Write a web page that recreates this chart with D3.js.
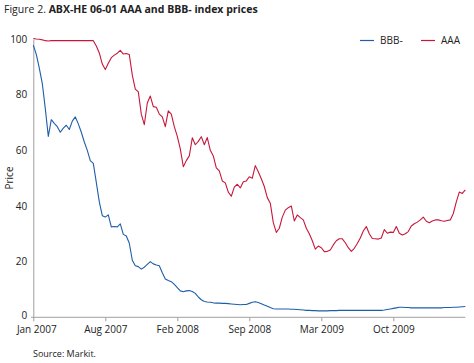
<!DOCTYPE html>
<html><head><meta charset="utf-8">
<script src="https://cdn.jsdelivr.net/npm/d3@7"></script>
<style>body{margin:0;background:#fff}svg{display:block}text{font-family:"Open Sans",sans-serif;fill:#222}</style>
</head><body><svg id="c" width="474" height="363"></svg>
<script>
const tickLabels = ["Jan 2007","Aug 2007","Feb 2008","Sep 2008","Mar 2009","Oct 2009"];
const tickIndex = [0,24,48,72,96,120];
const yTicks = [0,20,40,60,80,100];
const seriesNames = ["BBB-","AAA"];
const bbb = [97.8,94.5,89.5,84,75,65,71,69.7,68.5,66.5,68,69,67.5,70.5,72,69.5,66.5,63,60,56.3,
55.3,48.5,41.5,36.5,36,36.8,32.5,32.6,32.5,33.6,29.8,29.2,26.6,20.5,18.5,18.2,17.3,18,19,20,
19.2,18.8,18.5,16,13.8,13.2,12.8,11.8,10.7,9.5,9.2,9.5,9.6,9.3,8.6,7.3,6.3,5.7,5.5,5.4,
5.2,5.1,5.1,5,5,4.9,4.8,4.7,4.6,4.5,4.6,4.6,5,5.4,5.6,5.3,4.9,4.4,4,3.5,
3.1,3,3,3,3,3,2.9,2.9,2.8,2.7,2.6,2.5,2.5,2.4,2.4,2.3,2.3,2.3,2.3,2.4,
2.4,2.4,2.5,2.5,2.5,2.5,2.5,2.5,2.5,2.5,2.5,2.5,2.5,2.5,2.5,2.5,2.5,2.6,2.8,3.0,
3.2,3.4,3.6,3.6,3.5,3.5,3.4,3.4,3.4,3.4,3.4,3.4,3.4,3.4,3.4,3.4,3.4,3.5,3.5,3.5,
3.6,3.6,3.7,3.8,3.9];
const aaa = [100.2,100,99.9,99.7,99.4,99.3,99.4,99.4,99.4,99.4,99.4,99.4,99.4,99.4,99.4,99.4,99.4,99.4,99.4,99.4,
99.4,97.5,95,91,89,91.3,93.3,94.2,94.9,95.9,94.6,94.8,94.4,87,82,81,73,69.2,77,79.5,
75.7,75.5,73,72,68.5,74.2,73,68.5,65,60.5,54.1,56.3,58,64.5,62,63.2,64.9,62,64.6,60,
58,53.7,52.6,49,48.3,45,43.5,46.8,47.8,46.5,48.7,49,50.5,50,54.5,52.3,49.8,47,43,41,
34,30.5,32,36,38.5,39.4,40,34.6,36.8,35.8,35,32,30,27.5,24.5,25.6,25,23.6,23.7,24.2,
26,27.5,28.2,28.2,26.8,25,23.7,24.8,26.5,28.5,31,32.6,30,28.3,28.2,28.1,28.5,31.5,30.2,30.6,
30.5,32.6,30.2,29.6,30,30.8,32.8,33.6,34.2,35,36,34.5,34,34.6,35,35,34.7,34.5,34.8,35,
37.3,41.5,45,44.5,45.8];
const colors = ["#1f5ea8","#c8173a"];

const svg = d3.select("#c");
const x = d3.scaleLinear().domain([0,144]).range([33.3,465.3]);
const y = d3.scaleLinear().domain([0,100]).range([317.3,39]);

// title
const t = svg.append("text").attr("x",4).attr("y",13).style("font-size","10.5px");
t.append("tspan").text("Figure 2. ");
t.append("tspan").style("font-weight","bold").text("ABX-HE 06-01 AAA and BBB- index prices");

// y axis
const ya = svg.append("g").attr("transform","translate(33.3,0)")
  .call(d3.axisLeft(y).tickValues(yTicks).tickSize(0).tickPadding(6));
ya.select(".domain").attr("stroke","#a0a0a0");
ya.selectAll("text").style("font-size","10px").style("font-family","'Open Sans',sans-serif").attr("fill","#222");
ya.selectAll(".tick").filter(d=>d===0).select("text").attr("dy","0.1em");

// x axis
const xa = svg.append("g").attr("transform","translate(0,317.3)")
  .call(d3.axisBottom(x).tickValues(tickIndex).tickFormat((d,i)=>tickLabels[i]).tickSize(4).tickSizeOuter(0).tickPadding(5));
xa.select(".domain").attr("d","M31,0H465.3").attr("stroke","#a0a0a0");
xa.selectAll(".tick line").attr("stroke","#a0a0a0");
xa.selectAll("text").style("font-size","10px").style("font-family","'Open Sans',sans-serif").attr("fill","#222");
xa.select(".tick text").attr("dx","3");

svg.append("text").attr("transform","translate(13,178) rotate(-90)").attr("text-anchor","middle")
  .style("font-size","10px").text("Price");

const line = d3.line().x((d,i)=>x(i)).y(d=>y(d));
[bbb,aaa].forEach((s,k)=>{
  svg.append("path").attr("d",line(s)).attr("fill","none").attr("stroke",colors[k]).attr("stroke-width",1.1).attr("stroke-linejoin","round");
});

// legend
const lg = [[360,380],[421,441]];
seriesNames.forEach((n,k)=>{
  svg.append("line").attr("x1",lg[k][0]).attr("x2",lg[k][0]+14).attr("y1",40.5).attr("y2",40.5).attr("stroke",colors[k]).attr("stroke-width",1.2);
  svg.append("text").attr("x",lg[k][1]).attr("y",44).style("font-size","10px").text(n);
});

svg.append("text").attr("x",33).attr("y",357).style("font-size","9px").text("Source: Markit.");
</script></body></html>
